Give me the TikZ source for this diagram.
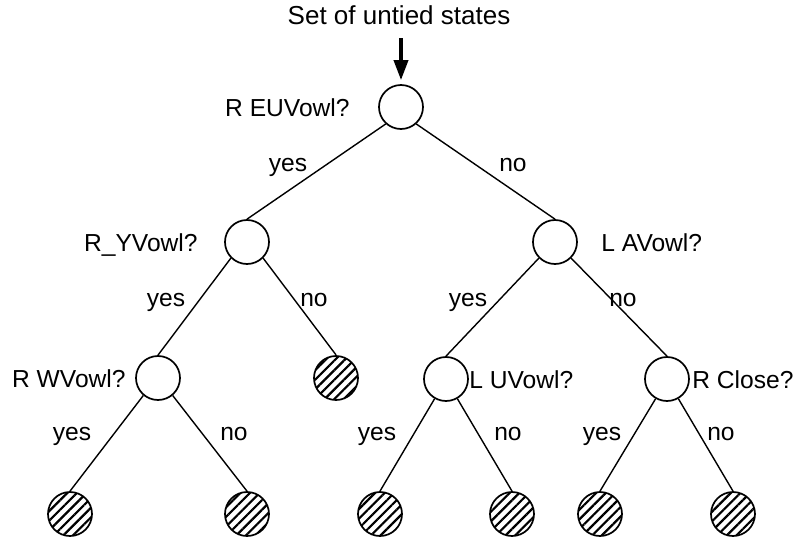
\documentclass[tikz,border=0pt]{standalone}
\usepackage{fontspec}
\setmainfont{Liberation Sans}
\usetikzlibrary{arrows.meta,patterns.meta}
\begin{document}
\begin{tikzpicture}[x=0.5pt,y=-0.5pt,
  qnode/.style={circle,draw,line width=0.85pt,minimum size=22pt,inner sep=0pt},
  leafnode/.style={qnode,pattern={Lines[angle=45,distance=3.4pt,line width=1.1pt]}},
  edge/.style={line width=0.7pt},
  lbl/.style={inner sep=0pt,font=\fontsize{12.3}{14}\selectfont},
  elbl/.style={lbl,anchor=base}]
\useasboundingbox (0,0) rectangle (800,541);
% title and arrow
\node[lbl,anchor=base,font=\fontsize{13}{15}\selectfont] (title) at (399,24) {Set of untied states};
\coordinate (arrstart) at (401,38);
% question nodes
\node[qnode] (root) at (401,107) {};
\node[qnode] (ry) at (247,242) {};
\node[qnode] (la) at (555,242) {};
\node[qnode] (rw) at (158,378) {};
\node[leafnode] (h1) at (336,378) {};
\node[qnode] (lu) at (446,379) {};
\node[qnode] (rc) at (667,379) {};
% leaves
\node[leafnode] (l1) at (70,514) {};
\node[leafnode] (l2) at (247,514) {};
\node[leafnode] (l3) at (380,514) {};
\node[leafnode] (l4) at (512,514) {};
\node[leafnode] (l5) at (600,514) {};
\node[leafnode] (l6) at (733,514) {};
% node labels
\node[lbl,anchor=base east] (troot) at (350,116) {R EUVowl?};
\node[lbl,anchor=base east] (try) at (198,251) {R\_YVowl?};
\node[lbl,anchor=base west] (tla) at (601,251) {L AVowl?};
\node[lbl,anchor=base east] (trw) at (126,387) {R WVowl?};
\node[lbl,anchor=base west] (tlu) at (469,388) {L UVowl?};
\node[lbl,anchor=base west] (trc) at (692,388) {R Close?};
% arrow
\draw[line width=1.8pt,-{Triangle[length=10pt,width=7pt]},shorten >=2pt] (arrstart) -- (root.north);
% connectors
\draw[edge] (root.228) -- (ry.north);
\draw[edge] (root.312) -- (la.north);
\draw[edge] (ry.225) -- (rw.north);
\draw[edge] (ry.315) -- (h1.north);
\draw[edge] (la.225) -- (lu.north);
\draw[edge] (la.315) -- (rc.north);
\draw[edge] (rw.230) -- (l1.north);
\draw[edge] (rw.310) -- (l2.north);
\draw[edge] (lu.240) -- (l3.north);
\draw[edge] (lu.300) -- (l4.north);
\draw[edge] (rc.240) -- (l5.north);
\draw[edge] (rc.300) -- (l6.north);
% edge labels
\node[elbl] (e1) at (288,171) {yes};
\node[elbl] (e2) at (513,171) {no};
\node[elbl] (e3) at (166,306) {yes};
\node[elbl] (e4) at (314,306) {no};
\node[elbl] (e5) at (468,306) {yes};
\node[elbl] (e6) at (623,306) {no};
\node[elbl] (e7) at (72,440) {yes};
\node[elbl] (e8) at (234,440) {no};
\node[elbl] (e9) at (377,440) {yes};
\node[elbl] (e10) at (508,440) {no};
\node[elbl] (e11) at (602,440) {yes};
\node[elbl] (e12) at (721,440) {no};
\end{tikzpicture}
\end{document}
